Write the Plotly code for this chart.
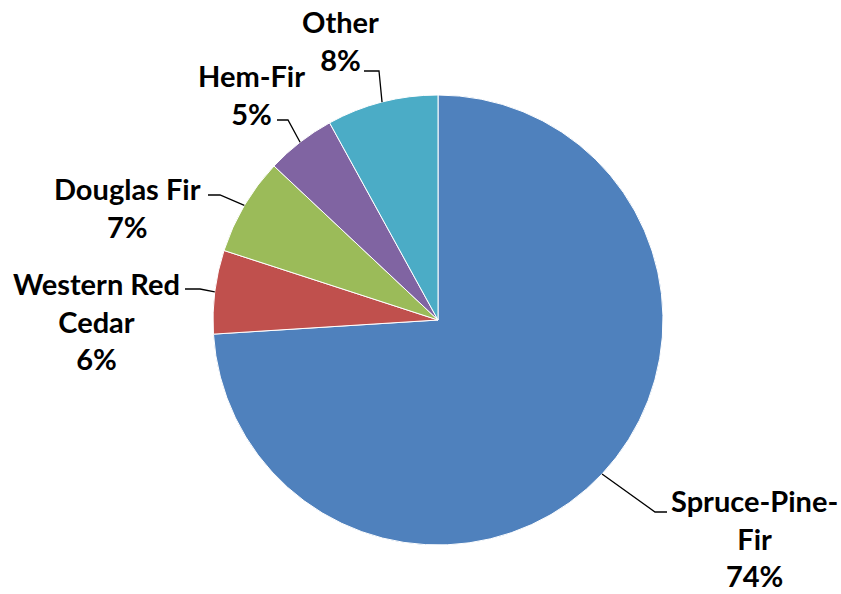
import math
import plotly.graph_objects as go

# ---- data ----
species = ["Spruce-Pine-Fir", "Western Red Cedar", "Douglas Fir", "Hem-Fir", "Other"]
shares = [74, 6, 7, 5, 8]
label_text = ["Spruce-Pine-<br>Fir<br>74%", "Western Red<br>Cedar<br>6%",
              "Douglas Fir<br>7%", "Hem-Fir<br>5%", "Other<br>8%"]
colors = ["#4F81BD", "#C0504D", "#9BBB59", "#8064A2", "#4BACC6"]

# ---- layout (pixels) ----
W, H = 841, 594
CX, CY, R = 438, 320, 225
# per-label layout: elbow of leader line, end of leader line, text center
label_layout = [
    dict(elbow=(655, 512), end=(667, 512), text=(754, 538)),
    dict(elbow=(200, 289), end=(185, 289), text=(96, 321)),
    dict(elbow=(220, 195), end=(208, 195), text=(128, 208)),
    dict(elbow=(288, 120), end=(277, 120), text=(251, 94)),
    dict(elbow=(379, 71), end=(364, 71), text=(340, 40)),
]

def px(x):
    return x / W

def py(y):
    return 1 - y / H

fig = go.Figure(go.Pie(
    labels=species, values=shares, sort=False, direction="clockwise", rotation=0,
    marker=dict(colors=colors, line=dict(color="white", width=1)),
    textinfo="none", hoverinfo="label+percent", showlegend=False,
    domain=dict(x=[px(CX - R), px(CX + R)], y=[py(CY + R), py(CY - R)]),
))

total = sum(shares)
cum = 0
shapes = []
annotations = []
for v, txt, lay in zip(shares, label_text, label_layout):
    mid = (cum + v / 2) / total * 2 * math.pi
    cum += v
    sx = CX + R * math.sin(mid)
    sy = CY - R * math.cos(mid)
    ex, ey = lay["elbow"]
    fx, fy = lay["end"]
    shapes.append(dict(type="path", xref="paper", yref="paper",
                       path=f"M {px(sx)} {py(sy)} L {px(ex)} {py(ey)} L {px(fx)} {py(fy)}",
                       line=dict(color="black", width=1.3)))
    tx, ty = lay["text"]
    annotations.append(dict(x=px(tx), y=py(ty), xref="paper", yref="paper",
                            text=f"<b>{txt}</b>", showarrow=False, align="center",
                            xanchor="center", yanchor="middle",
                            font=dict(family="Lato", size=29, color="black")))

fig.update_layout(
    width=W, height=H, margin=dict(l=0, r=0, t=0, b=0),
    paper_bgcolor="white", plot_bgcolor="white",
    shapes=shapes, annotations=annotations,
)

fig.write_html("out.html", config={"displayModeBar": False},
               post_script="document.body.style.margin='0';document.body.style.overflow='hidden';")
